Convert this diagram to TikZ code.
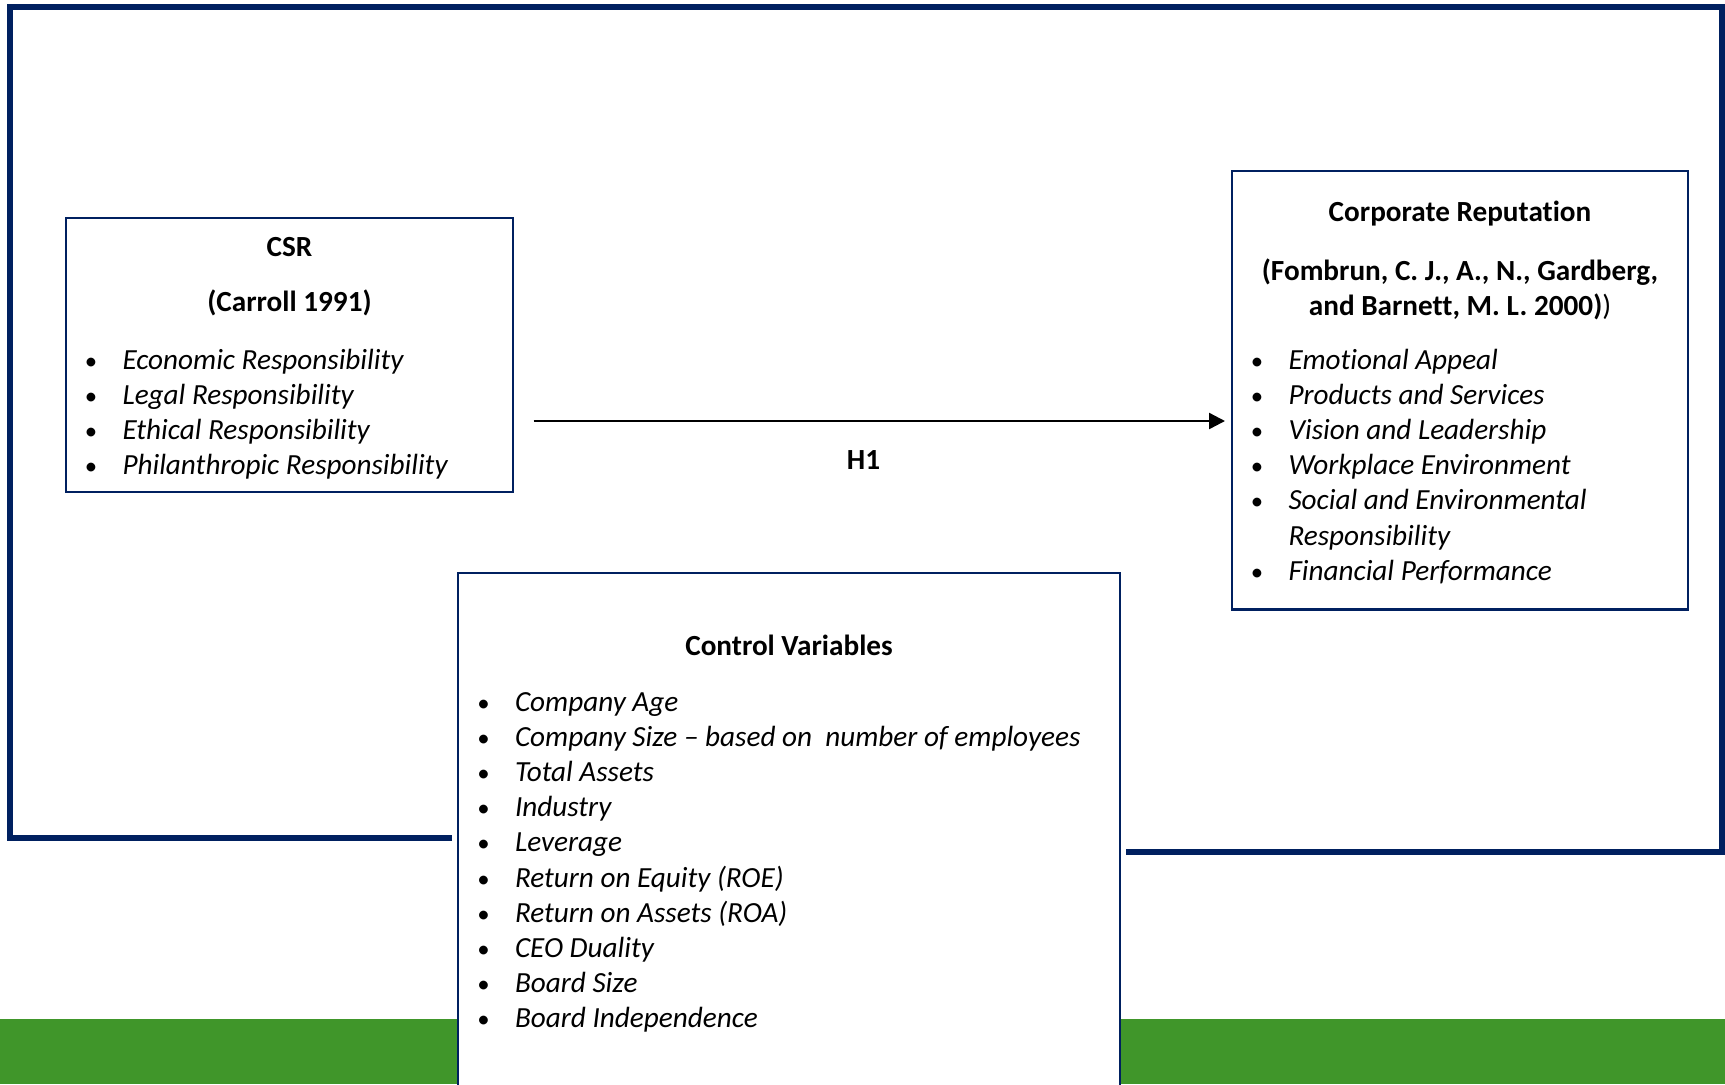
\documentclass[tikz,border=0pt]{standalone}
\usepackage{fontspec}
\setmainfont{Carlito}[Ligatures={NoCommon}]
\usetikzlibrary{arrows.meta}
\definecolor{navy}{RGB}{0,32,96}
\definecolor{bandgreen}{RGB}{64,150,42}
% bullet hung to the left of an item's text
\newcommand\hangbul{\llap{\makebox[0pt][c]{\upshape\fontsize{12.4pt}{14pt}\selectfont\textbullet}\hspace{15.75pt}}}
\begin{document}
\begin{tikzpicture}[x=0.5pt,y=-0.5pt,
  every node/.style={inner sep=0pt,outer sep=0pt,font=\fontsize{14.6pt}{17.6pt}\selectfont},
  frame/.style={draw=navy,line width=2.8pt,line join=miter},
  varbox/.style={draw=navy,line width=1.1pt,fill=white},
  head/.style={anchor=base,font=\fontsize{14.6pt}{17.6pt}\selectfont\bfseries},
  entry/.style={anchor=base west,font=\fontsize{14.6pt}{17.6pt}\selectfont\itshape},
  link/.style={line width=1.2pt,-{Triangle[length=8pt,width=8pt]}}]
\useasboundingbox (0,0) rectangle (1725,1084);

% green band along the bottom
\fill[bandgreen] (0,1018.7) rectangle (1725,1084);

% outer frame
\draw[frame] (452,838) -- (10,838) -- (10,7) -- (1722,7) -- (1722,852) -- (1126,852);

% CSR
\node[varbox,minimum width=223.5pt,minimum height=137pt] (csr) at (289.5,355) {};
\node[head] (csrT) at (289.5,256) {CSR};
\node[head] (csrR) at (289.5,311) {(Carroll 1991)};
\node[entry] (csr1) at (122.5,369) {\hangbul Economic Responsibility};
\node[entry] (csr2) at (122.5,404.2) {\hangbul Legal Responsibility};
\node[entry] (csr3) at (122.5,439.4) {\hangbul Ethical Responsibility};
\node[entry] (csr4) at (122.5,474.6) {\hangbul Philanthropic Responsibility};

% Corporate reputation
\node[varbox,minimum width=228pt,minimum height=219.25pt] (rep) at (1460,390.25) {};
\node[head] (repT) at (1460,221) {Corporate Reputation};
\node[head] (repR1) at (1460,280) {(Fombrun, C. J., A., N., Gardberg,};
\node[head] (repR2) at (1460,315) {and Barnett, M. L. 2000)\textmd{)}};
\node[entry] (rep1) at (1288.5,369) {\hangbul Emotional Appeal};
\node[entry] (rep2) at (1288.5,404.2) {\hangbul Products and Services};
\node[entry] (rep3) at (1288.5,439.4) {\hangbul Vision and Leadership};
\node[entry] (rep4) at (1288.5,474.6) {\hangbul Workplace Environment};
\node[entry] (rep5) at (1288.5,509.8) {\hangbul Social and Environmental};
\node[entry] (rep5b) at (1288.5,545) {Responsibility};
\node[entry] (rep6) at (1288.5,580.2) {\hangbul Financial Performance};

% hypothesis
\path (csr.east) ++(20.5,66) coordinate (h1from);
\path (rep.west) ++(-7,30.75) coordinate (h1to);
\draw[link] (h1from) -- (h1to);
\node[font=\fontsize{14.6pt}{17.6pt}\selectfont\bfseries] (h1) at (863.5,460) {H1};

% control variables
\node[varbox,minimum width=331pt,minimum height=263.5pt] (ctrl) at (789,836.5) {};
\node[head] (ctrlT) at (789,655) {Control Variables};
\node[entry] (c1) at (515,711) {\hangbul Company Age};
\node[entry] (c2) at (515,746.2) {\hangbul Company Size -- based on\ \ number of employees};
\node[entry] (c3) at (515,781.4) {\hangbul Total Assets};
\node[entry] (c4) at (515,816.6) {\hangbul Industry};
\node[entry] (c5) at (515,851.8) {\hangbul Leverage};
\node[entry] (c6) at (515,887) {\hangbul Return on Equity (ROE)};
\node[entry] (c7) at (515,922.2) {\hangbul Return on Assets (ROA)};
\node[entry] (c8) at (515,957.4) {\hangbul CEO Duality};
\node[entry] (c9) at (515,992.6) {\hangbul Board Size};
\node[entry] (c10) at (515,1027.8) {\hangbul Board Independence};
\end{tikzpicture}
\end{document}
